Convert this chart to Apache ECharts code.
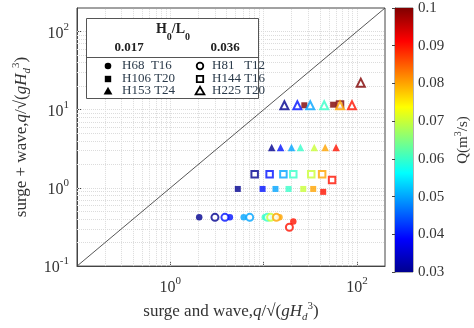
<!DOCTYPE html>
<html><head><meta charset="utf-8">
<script src="https://cdn.jsdelivr.net/npm/echarts@6/dist/echarts.min.js"></script>
<style>html,body{margin:0;padding:0;background:#fff}#c{width:474px;height:328px}</style>
</head><body><div id="c"></div>
<script>
// ---- data (x = surge and wave, y = surge + wave, q = discharge Q m3/s) ----
const h68X = [2.04, 4.35, 6.12, 10.3, 12.5, 14.8, 20.8];
const h68Y = [0.42, 0.42, 0.42, 0.42, 0.42, 0.42, 0.373];
const h68Q = [0.03, 0.04, 0.05, 0.06, 0.07, 0.08, 0.09];

const h81X = [3.01, 3.85, 7.10, 11.0, 11.9, 13.7, 18.9];
const h81Y = [0.42, 0.42, 0.42, 0.42, 0.42, 0.42, 0.314];
const h81Q = [0.03, 0.04, 0.05, 0.06, 0.07, 0.08, 0.09];

const h106X = [5.29, 9.75, 13.4, 18.5, 26.6, 34.0, 43.5, 27.3, 55.6];
const h106Y = [0.97, 0.97, 0.97, 0.97, 0.97, 0.97, 0.89, 11.4, 11.6];
const h106Q = [0.03, 0.04, 0.05, 0.06, 0.07, 0.08, 0.09, 0.1, 0.1];

const h144X = [8.02, 11.6, 16.3, 20.8, 32.4, 42.4, 54.2, 65.9];
const h144Y = [1.5, 1.5, 1.5, 1.5, 1.5, 1.5, 1.26, 11.7];
const h144Q = [0.03, 0.04, 0.05, 0.06, 0.07, 0.08, 0.09, 0.1];

const h153X = [12.2, 15.2, 19.9, 24.8, 34.9, 45.7, 59.8];
const h153Y = [3.28, 3.28, 3.28, 3.28, 3.28, 3.28, 3.28];
const h153Q = [0.03, 0.04, 0.05, 0.06, 0.07, 0.08, 0.09];

const h225X = [16.7, 23.0, 31.6, 44.6, 65.9, 88.5, 110];
const h225Y = [11.4, 11.4, 11.4, 11.4, 11.4, 11.4, 22.2];
const h225Q = [0.03, 0.04, 0.05, 0.06, 0.08, 0.09, 0.1];

const diagX = [0.1, 200];
const diagY = [0.1, 200];

const qMin = 0.03, qMax = 0.1, qStep = 0.01;
const legendNames = ['H68  T16', 'H106 T20', 'H153 T24', 'H81   T12', 'H144 T16', 'H225 T20'];
const legendGroups = ['0.017', '0.036'];

const jet = ['#00008f','#0000ff','#0080ff','#00ffff','#80ff80','#ffff00','#ff8000','#ff0000','#800000'];
const SERIF = '"Liberation Serif", "Times New Roman", serif';

function pts(x, y, q) { return x.map((v, i) => [v, y[i], q[i]]); }

// minor grid positions (log decades)
const xGrid = [], yGrid = [];
for (let k = -1; k <= 2; k++) for (let m = 1; m <= 9; m++) {
  const v = m * Math.pow(10, k);
  if (v > 0.1 && v < 200) { xGrid.push({ xAxis: v }); yGrid.push({ yAxis: v }); }
}

const chart = echarts.init(document.getElementById('c'), null, { renderer: 'canvas' });

const richTick = {
  b: { fontFamily: SERIF, fontSize: 16, color: '#333', lineHeight: 20, verticalAlign: 'bottom' },
  s: { fontFamily: SERIF, fontSize: 11, color: '#333', lineHeight: 12, verticalAlign: 'top' }
};
function powLabel(v, allowed) {
  const e = Math.round(Math.log10(v));
  if (Math.abs(Math.pow(10, e) - v) > 1e-9 * v) return '';
  if (allowed.indexOf(e) < 0) return '';
  return '{b|10}{s|' + e + '}';
}
const richName = {
  n: { fontFamily: SERIF, fontSize: 17, color: '#333', lineHeight: 22, verticalAlign: 'middle' },
  i: { fontFamily: SERIF, fontSize: 17, fontStyle: 'italic', color: '#333', lineHeight: 22, verticalAlign: 'middle' },
  sp: { fontFamily: SERIF, fontSize: 11, color: '#333', lineHeight: 12, verticalAlign: 'top' },
  sb: { fontFamily: SERIF, fontSize: 11, fontStyle: 'italic', color: '#333', lineHeight: 12, verticalAlign: 'bottom' }
};
const qExpr = '{i|q}{n|/√(}{i|gH}{sb|d}{sp|3}{n|)}';

const scatterBase = (name, sym, size, empty, data) => ({
  name, type: 'scatter', xAxisIndex: 0, yAxisIndex: 0,
  symbol: sym, symbolSize: size, data,
  itemStyle: empty ? { borderWidth: 1.7 } : { borderWidth: 0 },
  z: empty ? 4 : 3, silent: true
});

const legendX1 = 108, legendX2 = 200, legendTx1 = 122, legendTx2 = 212, rowsY = [66, 79, 91];
function legMarker(kind, cx, cy, filled) {
  const st = filled ? { fill: '#000' } : { fill: 'none', stroke: '#000', lineWidth: 1.8 };
  if (kind === 'c') return { type: 'circle', shape: { cx, cy, r: 3.3 }, style: st };
  if (kind === 's') return { type: 'rect', shape: { x: cx - 3.2, y: cy - 3.2, width: 6.4, height: 6.4 }, style: st };
  return { type: 'polygon', shape: { points: [[cx, cy - 4.2], [cx + 4.4, cy + 3.4], [cx - 4.4, cy + 3.4]] }, style: st };
}
const legendGraphics = [
  { type: 'rect', shape: { x: 86.5, y: 18.5, width: 172, height: 80 }, style: { fill: '#fff', stroke: '#555', lineWidth: 1 }, z: 10 },
  { type: 'line', shape: { x1: 86.5, y1: 57.5, x2: 258.5, y2: 57.5 }, style: { stroke: '#555', lineWidth: 1 }, z: 10 },
  { type: 'text', x: 173, y: 32, z: 11, style: { text: '{h|H}{l|0}{h|/L}{l|0}', align: 'center', verticalAlign: 'middle',
      rich: { h: { fontFamily: SERIF, fontWeight: 'bold', fontSize: 14, fill: '#222', lineHeight: 18, verticalAlign: 'top' },
              l: { fontFamily: SERIF, fontWeight: 'bold', fontSize: 10, fill: '#222', lineHeight: 20, verticalAlign: 'bottom' } } } },
  { type: 'text', x: 129, y: 48, z: 11, style: { text: legendGroups[0], align: 'center', verticalAlign: 'middle', font: 'bold 13px ' + SERIF, fill: '#222' } },
  { type: 'text', x: 225, y: 48, z: 11, style: { text: legendGroups[1], align: 'center', verticalAlign: 'middle', font: 'bold 13px ' + SERIF, fill: '#222' } }
];
['c', 's', 't'].forEach((k, r) => {
  legendGraphics.push(Object.assign(legMarker(k, legendX1, rowsY[r], true), { z: 11 }));
  legendGraphics.push(Object.assign(legMarker(k, legendX2, rowsY[r], false), { z: 11 }));
  legendGraphics.push({ type: 'text', x: legendTx1, y: rowsY[r], z: 11, style: { text: legendNames[r], verticalAlign: 'middle', font: '13px ' + SERIF, fill: '#2a3a4a' } });
  legendGraphics.push({ type: 'text', x: legendTx2, y: rowsY[r], z: 11, style: { text: legendNames[r + 3], verticalAlign: 'middle', font: '13px ' + SERIF, fill: '#2a3a4a' } });
});
// colorbar gradient
legendGraphics.push({
  type: 'rect', shape: { x: 395, y: 8, width: 18, height: 264 }, z: 1,
  style: { fill: new echarts.graphic.LinearGradient(0, 1, 0, 0, jet.map((c, i) => ({ offset: i / (jet.length - 1), color: c }))) }
});

const option = {
  animation: false,
  backgroundColor: '#fff',
  grid: [
    { left: 77, top: 8, width: 308, height: 264, show: true, borderColor: '#444', borderWidth: 1, backgroundColor: 'transparent' },
    { left: 395, top: 8, width: 18, height: 264, show: true, borderColor: '#444', borderWidth: 0.8, backgroundColor: 'transparent' }
  ],
  xAxis: [
    { type: 'log', logBase: 10, min: 0.1, max: 200, gridIndex: 0,
      axisLine: { lineStyle: { color: '#444' } },
      axisTick: { inside: true, length: 4, lineStyle: { color: '#444' } },
      splitLine: { show: false },
      axisLabel: { margin: 10, formatter: v => powLabel(v, [0, 2]), rich: richTick, showMaxLabel: false },
      name: '{n|surge and wave,}' + qExpr, nameLocation: 'middle', nameGap: 24,
      nameTextStyle: { rich: richName } },
    { type: 'value', gridIndex: 1, min: 0, max: 1, show: false }
  ],
  yAxis: [
    { type: 'log', logBase: 10, min: 0.1, max: 200, gridIndex: 0,
      axisLine: { lineStyle: { color: '#444' } },
      axisTick: { inside: true, length: 4, lineStyle: { color: '#444' } },
      splitLine: { show: false },
      axisLabel: { margin: 8, formatter: v => powLabel(v, [-1, 0, 1, 2]), rich: richTick, showMaxLabel: false },
      name: '{n|surge + wave,}' + qExpr, nameLocation: 'middle', nameGap: 40, nameRotate: 90,
      nameTextStyle: { rich: richName } },
    { type: 'value', gridIndex: 1, position: 'right', min: qMin, max: qMax, interval: qStep,
      axisLine: { show: true, lineStyle: { color: '#444', width: 0.8 } },
      axisTick: { inside: true, length: 3, lineStyle: { color: '#444' } },
      splitLine: { show: false },
      axisLabel: { margin: 5, fontFamily: SERIF, fontSize: 15, color: '#333', formatter: v => String(parseFloat(v.toFixed(2))) },
      name: '{n|Q(m}{sp|3}{n|/s)}', nameLocation: 'middle', nameGap: 40, nameRotate: 90,
      nameTextStyle: { rich: {
        n: { fontFamily: SERIF, fontSize: 15, color: '#333', lineHeight: 20, verticalAlign: 'middle' },
        sp: { fontFamily: SERIF, fontSize: 10, color: '#333', lineHeight: 12, verticalAlign: 'top' } } } }
  ],
  visualMap: {
    type: 'continuous', show: false, min: qMin, max: qMax, dimension: 2,
    seriesIndex: [1, 2, 3, 4, 5, 6], inRange: { color: jet }
  },
  graphic: legendGraphics,
  series: [
    { type: 'line', xAxisIndex: 0, yAxisIndex: 0, data: diagX.map((v, i) => [v, diagY[i]]),
      symbol: 'none', lineStyle: { color: '#444', width: 0.9 }, silent: true, z: 2,
      markLine: { silent: true, symbol: 'none', label: { show: false },
        lineStyle: { color: '#dcdcdc', type: 'dotted', width: 1 },
        data: xGrid.concat(yGrid), z: 1 } },
    scatterBase('H68 T16', 'circle', 6.5, false, pts(h68X, h68Y, h68Q)),
    scatterBase('H106 T20', 'rect', 6, false, pts(h106X, h106Y, h106Q)),
    scatterBase('H153 T24', 'triangle', 7.5, false, pts(h153X, h153Y, h153Q)),
    scatterBase('H81 T12', 'emptyCircle', 7, true, pts(h81X, h81Y, h81Q)),
    scatterBase('H144 T16', 'emptyRect', 6.5, true, pts(h144X, h144Y, h144Q)),
    scatterBase('H225 T20', 'emptyTriangle', 8, true, pts(h225X, h225Y, h225Q)),
    { type: 'scatter', xAxisIndex: 1, yAxisIndex: 1, data: [] }
  ]
};
chart.setOption(option);
</script></body></html>
